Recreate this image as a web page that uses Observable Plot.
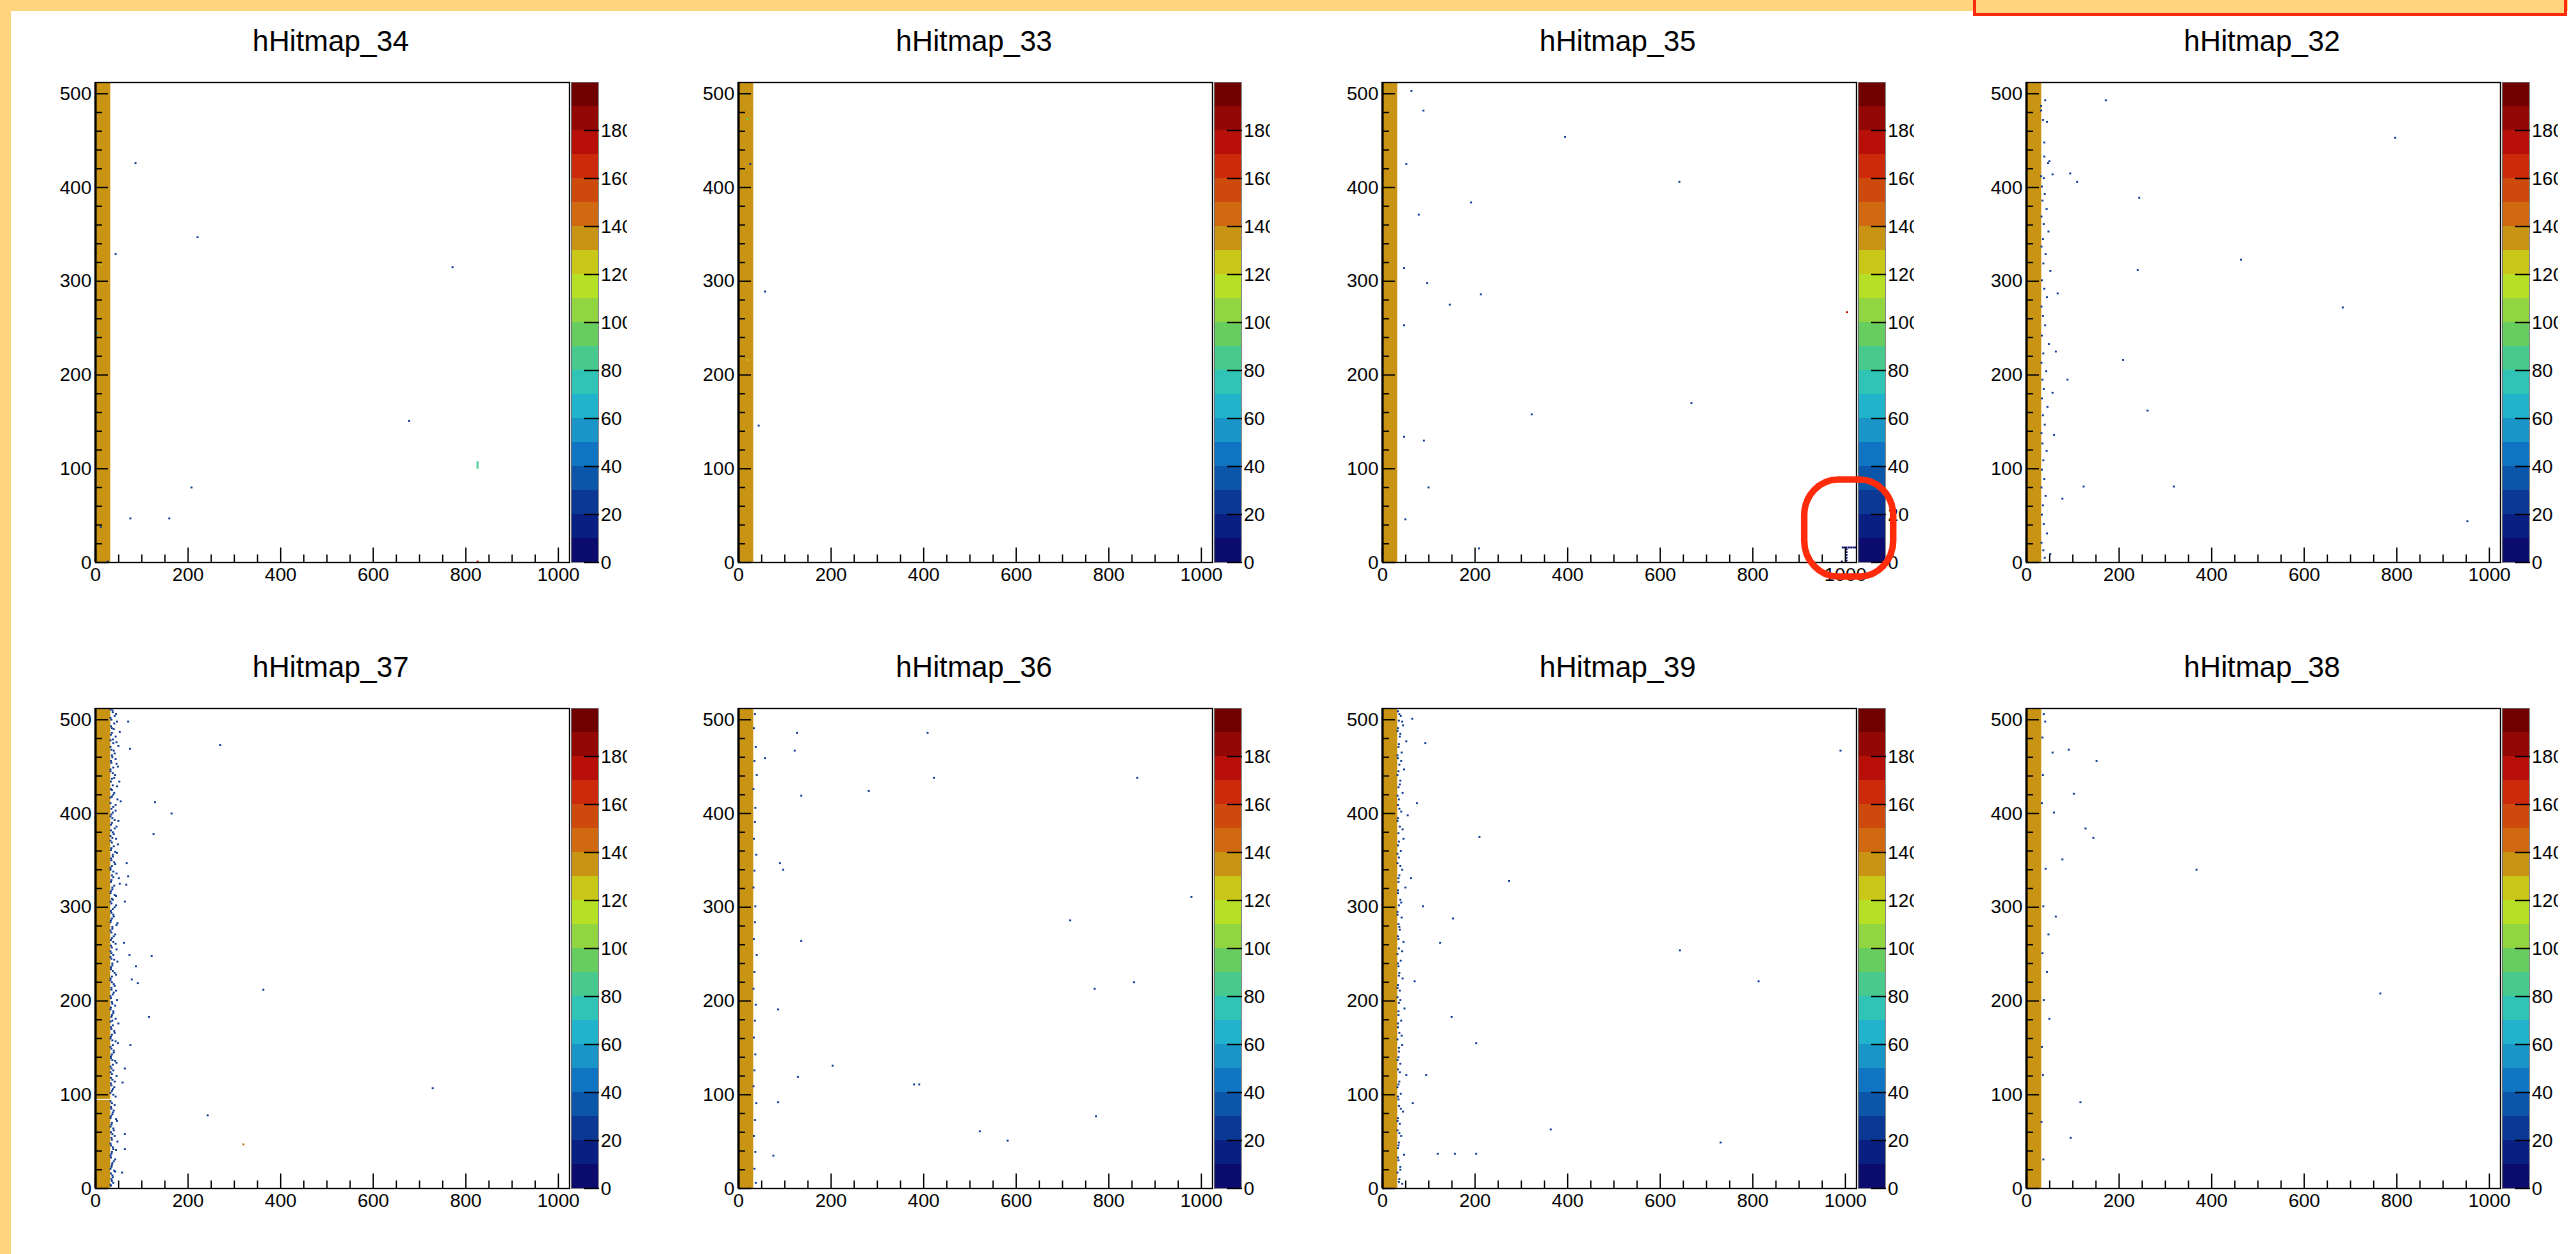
<!DOCTYPE html>
<html>
<head>
<meta charset="utf-8">
<script src="https://cdn.jsdelivr.net/npm/d3@7"></script>
<script src="https://cdn.jsdelivr.net/npm/@observablehq/plot@0.6"></script>
<style>
html,body{margin:0;padding:0;background:#fff;}
#page{position:relative;width:2568px;height:1254px;overflow:hidden;background:#fff;font-family:"Liberation Sans",Arial,Helvetica,sans-serif;}
.band-top{position:absolute;left:0;top:0;width:2568px;height:10.7px;background:#FFD47D;}
.band-left{position:absolute;left:0;top:0;width:10.5px;height:1254px;background:#FFD47D;}
.title{position:absolute;width:400px;text-align:center;font-size:29px;line-height:29px;color:#000;white-space:nowrap;}
.abs{position:absolute;max-width:none !important;}
.cbwrap{position:absolute;overflow:hidden;}
.cbwrap svg{max-width:none !important;}
.hl-rect{position:absolute;box-sizing:border-box;border:3.5px solid #FF2B0A;background:#FFD47D;}
</style>
</head>
<body>
<div id="page">
  <div class="band-top"></div>
  <div class="band-left"></div>
  <div class="hl-rect" style="left:1973px;top:-10px;width:594px;height:25.7px;"></div>
</div>
<script>
// ---------------- data ----------------
const titles = ["hHitmap_34","hHitmap_33","hHitmap_35","hHitmap_32","hHitmap_37","hHitmap_36","hHitmap_39","hHitmap_38"];
const nbinsX = 1024;
const nbinsY = 512;
const columnBins = 33;          // saturated strip of bins at the left edge
const columnValue = 135;        // its content
// strip segments in y per panel (hHitmap_37 has one empty row)
const columnSegments = [
  [[0,512]], [[0,512]], [[0,512]], [[0,512]],
  [[0,94],[95,512]], [[0,512]], [[0,512]], [[0,512]]
];
const zLevels = [0,10,20,30,40,50,60,70,80,90,100,110,120,130,140,150,160,170,180,190,200];
const zThresholds = [10,20,30,40,50,60,70,80,90,100,110,120,130,140,150,160,170,180,190];
const palette = ["#0b0c6e","#0a1f82","#0a3894","#0b56a8","#0f74c2","#1a95c8","#22b3cc","#2fc4b6","#48c98d","#66cd5e","#91d640","#b5e026","#c9c818","#c99414","#d0690f","#cd4a0c","#cc2a0a","#b80f08","#930805","#700000"];
const zTicks = [0,20,40,60,80,100,120,140,160,180];
const xMajor = [0,200,400,600,800,1000];
const xMinor = [50,100,150,250,300,350,450,500,550,650,700,750,850,900,950];
const yMajor = [0,100,200,300,400,500];
const yMinor = [20,40,60,80,120,140,160,180,220,240,260,280,320,340,360,380,420,440,460,480];

// hit bins [x, y, content] (content defaults to 22)
const hits34 = [[87,425],[221,346],[44,328],[772,314],[678,150],[208,79],[76,46],[160,46],
  [826,100,85],[826,102,85],[826,104,85],[826,106,85],[826,0,170],[27,0],[1,329],[12,317,120],[4,244,75],[12,37]];
const hits33 = [[58,288],[44,145],[14,499,75],[20,472,95],[26,424],[20,215,125]];
const hits35 = [[63,502],[89,481],[52,424],[395,453],[79,370],[192,383],[642,405],[47,313],[97,297],[146,274],
  [213,285],[1004,266,170],[47,252],[323,157],[668,169],[47,133],[90,129],[100,79],[50,45],[209,14],
  [995,15,8],[999,15,8],[1003,15,8],[1008,15,8],[1013,15,8],[1018,15,8],[1022,15,8],
  [1003,1,8],[1003,4,8],[1003,7,8],[1003,10,8],[1003,13,8],[993,0,8]];
const hits32 = [[41,492],[172,492],[32,486],[32,481],[36,471],[45,469],[39,447],[39,432],[50,427],[47,425],[57,413],
  [95,414],[32,411],[38,409],[110,405],[244,388],[241,311],[464,322],[684,271],[209,215],[262,161],[319,80],
  [124,80],[953,43],[797,452],
  [34,400],[40,392],[35,385],[44,376],[33,368],[38,360],[48,352],[36,344],[33,336],[42,328],[37,318],[52,310],
  [34,300],[39,291],[45,282],[33,272],[36,262],[41,252],[34,241],[49,232],[37,222],[33,212],[43,203],[35,194],
  [38,184],[34,174],[46,165],[36,156],[40,146],[33,137],[35,126],[44,118],[37,108],[34,98],[39,88],[33,79],
  [42,70],[36,60],[34,50],[38,40],[45,30],[33,20],[37,12],[52,8],[40,4],
  [64,224],[89,194],[78,67],[57,180],[68,286],[60,135]];
const hits37 = [[33,510],[38,507],[42,503],[35,499],[47,497],[34,492],[40,489],[36,485],[44,481],[33,477],[39,474],
  [50,471],[35,467],[42,463],[37,459],[34,455],[46,452],[39,448],[33,444],[43,440],[36,436],[52,433],[38,429],
  [34,425],[41,421],[36,417],[48,414],[33,410],[39,406],[44,402],[35,398],[37,394],[50,391],[34,387],[42,383],
  [38,379],[33,375],[45,372],[36,368],[40,364],[34,360],[47,357],[38,353],[35,349],[43,345],[33,341],[39,337],
  [36,333],[51,330],[34,326],[41,322],[37,318],[33,314],[45,311],[38,307],[35,303],[42,299],[34,295],[39,291],
  [36,287],[33,283],[46,280],[37,276],[35,272],[40,268],[34,264],[44,260],[36,256],[33,252],[39,248],[35,244],
  [48,241],[37,237],[34,233],[42,229],[36,225],[33,221],[40,217],[35,213],[45,210],[38,206],[34,202],[36,198],
  [43,194],[33,190],[39,186],[35,182],[37,178],[50,175],[34,171],[41,167],[36,163],[33,159],[44,156],[38,152],
  [35,148],[40,144],[34,140],[37,136],[46,133],[33,129],[39,125],[36,121],[34,117],[42,113],[35,109],[38,105],
  [33,101],[44,97],[36,90],[34,86],[40,82],[37,78],[33,74],[47,71],[35,67],[39,63],[34,59],[42,55],[36,51],
  [33,47],[38,43],[45,40],[35,36],[34,32],[40,28],[36,24],[33,20],[43,17],[37,13],[35,9],[39,5],[34,2],
  [37,509],[45,505],[33,501],[41,495],[36,490],[53,486],[34,483],[38,478],[46,475],[33,470],[40,466],[36,461],
  [44,457],[35,453],[49,449],[33,446],[38,442],[41,437],[34,433],[47,428],[36,424],[39,419],[33,416],[55,412],
  [44,408],[35,404],[38,400],[33,396],[42,392],[36,389],[46,385],[34,381],[40,377],[37,373],[33,370],[49,366],
  [35,362],[43,358],[38,355],[34,351],[41,347],[36,343],[33,339],[46,335],[39,331],[35,328],[53,324],[37,320],
  [34,316],[42,312],[36,308],[33,305],[45,301],[38,297],[35,293],[40,289],[34,285],[48,282],[37,278],[33,274],
  [43,270],[36,266],[39,262],[34,258],[46,254],[35,250],[33,246],[41,243],[37,239],[34,235],[38,231],[45,227],
  [33,223],[36,219],[42,215],[35,211],[40,208],[33,204],[47,200],[37,196],[34,192],[39,188],[36,184],[44,180],
  [33,177],[38,173],[35,169],[42,165],[34,161],[37,157],[49,154],[33,150],[40,146],[36,142],[34,138],[43,135],
  [38,131],[35,127],[33,123],[46,119],[37,115],[34,111],[41,107],[36,103],[39,99],[33,92],[42,88],[35,84],
  [38,80],[34,76],[45,73],[36,69],[33,65],[40,61],[37,57],[35,53],[48,49],[34,45],[39,41],[36,38],[33,34],
  [43,30],[37,26],[35,22],[41,18],[34,15],[38,11],[36,7],[33,3],
  [71,497],[75,468],[270,472],[129,411],[165,399],[126,377],[68,346],[71,332],[67,323],[64,305],[62,261],
  [74,248],[122,247],[88,236],[79,222],[92,218],[363,211],[116,182],[76,152],[64,127],[59,112],[729,106],
  [243,77],[320,46,140],[64,57],[64,41],[58,16]];
const hits36 = [[36,505],[34,490],[38,470],[35,455],[40,440],[33,425],[37,405],[36,390],[34,372],[39,355],[35,338],
  [33,320],[37,300],[36,283],[34,265],[40,248],[35,230],[33,212],[38,195],[36,178],[34,160],[37,142],[35,125],
  [33,108],[39,90],[36,72],[34,55],[37,38],[35,20],[38,5],
  [127,485],[122,466],[409,485],[423,437],[282,423],[136,418],[862,437],[90,346],[97,339],[979,310],[136,263],
  [717,285],[855,219],[770,212],[86,190],[129,118],[380,110],[391,110],[204,130],[522,60],[582,50],[76,34],
  [773,76],[58,458],[86,91]];
const hits39 = [[34,508],[40,503],[36,498],[45,493],[33,487],[38,481],[52,476],[35,470],[42,464],[34,458],[37,451],
  [47,446],[33,440],[39,434],[35,427],[44,421],[36,414],[34,408],[41,401],[55,397],[33,391],[38,385],[35,378],
  [46,372],[34,365],[40,359],[36,352],[33,346],[43,339],[37,333],[35,326],[50,320],[34,314],[39,307],[36,301],
  [33,294],[42,288],[35,281],[38,275],[34,268],[46,262],[36,255],[33,249],[40,242],[35,236],[37,229],[44,223],
  [34,216],[38,210],[33,203],[36,197],[48,191],[35,184],[41,178],[34,171],[37,165],[33,158],[43,152],[36,145],
  [35,139],[39,132],[34,126],[52,120],[37,113],[33,107],[40,100],[35,94],[36,87],[45,81],[34,74],[38,68],
  [33,61],[41,55],[36,48],[34,42],[47,35],[35,29],[39,22],[33,16],[37,9],[43,4],
  [37,505],[43,497],[34,490],[39,484],[36,473],[33,461],[41,455],[35,444],[38,430],[33,418],[37,404],[34,394],
  [44,382],[36,369],[33,356],[39,343],[35,330],[34,317],[41,304],[33,291],[37,278],[35,265],[43,252],[34,239],
  [36,226],[33,213],[39,200],[35,188],[34,175],[42,162],[36,149],[33,136],[38,123],[35,110],[34,97],[40,84],
  [33,71],[37,58],[35,45],[34,32],[39,19],[36,6],
  [65,500],[93,474],[990,466],[210,374],[274,327],[153,287],[125,261],[643,253],[813,220],[150,182],[203,154],
  [364,62],[731,48],[157,36],[120,36],[203,36],[75,410],[62,330],[88,300],[70,220],[95,120],[66,90]];
const hits38 = [[38,505],[41,497],[57,464],[92,467],[152,455],[103,420],[78,350],[145,373],[128,383],[64,289],
  [368,339],[765,207],[117,91],[96,53],[35,480],[36,440],[34,410],[37,300],[35,250],[38,200],[34,150],[36,120],
  [33,70],[37,30],[45,230],[50,180],[60,400],[42,340],[48,270]];
const hits = [hits34, hits33, hits35, hits32, hits37, hits36, hits39, hits38];

// ---------------- layout ----------------
const frameLefts = [94.7, 738, 1381.7, 2026];
const frameTops = [82, 708];
const titleTops = [26.5, 652.5];
const FW = 474, FH = 480;
const ML = 45, MR = 2, MT = 6, MB = 34;
const CBW = 27, CBMR = 40, CBMB = 14;
const page = document.getElementById("page");
const font = "'Liberation Sans', Arial, Helvetica, sans-serif";
const colorScale = {type: "threshold", domain: zThresholds, range: palette};

titles.forEach((title, i) => {
  const col = i % 4, row = Math.floor(i / 4);
  const fl = frameLefts[col], ft = frameTops[row];

  const t = document.createElement("div");
  t.className = "title";
  t.textContent = title;
  t.style.left = (fl + 236 - 200) + "px";
  t.style.top = titleTops[row] + "px";
  page.appendChild(t);

  const strip = columnSegments[i].map(([y1, y2]) => ({x1: 0, x2: columnBins, y1, y2, z: columnValue}));
  const main = Plot.plot({
    width: ML + FW + MR, height: MT + FH + MB,
    marginLeft: ML, marginRight: MR, marginTop: MT, marginBottom: MB,
    x: {domain: [0, nbinsX]},
    y: {domain: [0, nbinsY]},
    color: colorScale,
    style: {fontFamily: font, fontSize: "19px", background: "transparent", overflow: "visible", color: "#000", maxWidth: "none"},
    marks: [
      Plot.rect(strip, {x1: "x1", x2: "x2", y1: "y1", y2: "y2", fill: "z"}),
      Plot.rect(hits[i], {x1: d => d[0], x2: d => d[0] + 1, y1: d => d[1], y2: d => d[1] + 1,
        fill: d => (d[2] ?? 22), insetLeft: -0.75, insetRight: -0.75, insetTop: -0.45, insetBottom: -0.45}),
      Plot.frame({stroke: "#000", strokeWidth: 1.3}),
      Plot.axisY({ticks: yMajor, tickSize: -13, tickPadding: 17, tickFormat: d => String(d), label: null, strokeWidth: 1.4}),
      Plot.axisY({ticks: yMinor, tickSize: -7, tickFormat: () => "", label: null, strokeWidth: 1.4}),
      Plot.axisX({ticks: xMajor, tickSize: -14.5, tickPadding: 19, tickFormat: d => String(d), label: null, strokeWidth: 1.4}),
      Plot.axisX({ticks: xMinor, tickSize: -7.5, tickFormat: () => "", label: null, strokeWidth: 1.4}),
      Plot.ruleX([0], {stroke: "#000", strokeWidth: 2.2})
    ]
  });
  main.classList.add("abs");
  main.style.left = (fl - ML) + "px";
  main.style.top = (ft - MT) + "px";
  page.appendChild(main);

  const bands = d3.pairs(zLevels);
  const cb = Plot.plot({
    width: CBW + CBMR, height: MT + FH + CBMB,
    marginLeft: 0, marginRight: CBMR, marginTop: MT, marginBottom: CBMB,
    y: {domain: [zLevels[0], zLevels[zLevels.length - 1]]},
    color: colorScale,
    style: {fontFamily: font, fontSize: "19px", background: "transparent", color: "#000", maxWidth: "none"},
    marks: [
      Plot.rect(bands, {y1: d => d[0], y2: d => d[1], fill: d => d[0]}),
      Plot.frame({stroke: "#6a6a6a", strokeWidth: 0.8}),
      Plot.axisY({anchor: "right", ticks: zTicks, tickSize: -15, tickPadding: 17.3, tickFormat: d => String(d), label: null, strokeWidth: 1.4})
    ]
  });
  cb.style.maxWidth = "none";
  cb.style.width = (CBW + CBMR) + "px";
  cb.style.height = (MT + FH + CBMB) + "px";
  const wrap = document.createElement("div");
  wrap.className = "cbwrap";
  wrap.style.left = (fl + 476) + "px";
  wrap.style.top = (ft - MT) + "px";
  wrap.style.width = "56px";
  wrap.style.height = (MT + FH + CBMB) + "px";
  wrap.appendChild(cb);
  page.appendChild(wrap);
});

// red hand-drawn highlight around the lower-right corner of hHitmap_35
const ns = "http://www.w3.org/2000/svg";
const hl = document.createElementNS(ns, "svg");
hl.setAttribute("width", 110); hl.setAttribute("height", 118);
hl.style.position = "absolute"; hl.style.left = "1797px"; hl.style.top = "472px";
const r = document.createElementNS(ns, "rect");
r.setAttribute("x", 7.2); r.setAttribute("y", 7.5); r.setAttribute("width", 89); r.setAttribute("height", 97);
r.setAttribute("rx", 34); r.setAttribute("ry", 36);
r.setAttribute("fill", "none"); r.setAttribute("stroke", "#FF2B0A"); r.setAttribute("stroke-width", 6.5);
hl.appendChild(r);
page.appendChild(hl);
</script>
</body>
</html>
